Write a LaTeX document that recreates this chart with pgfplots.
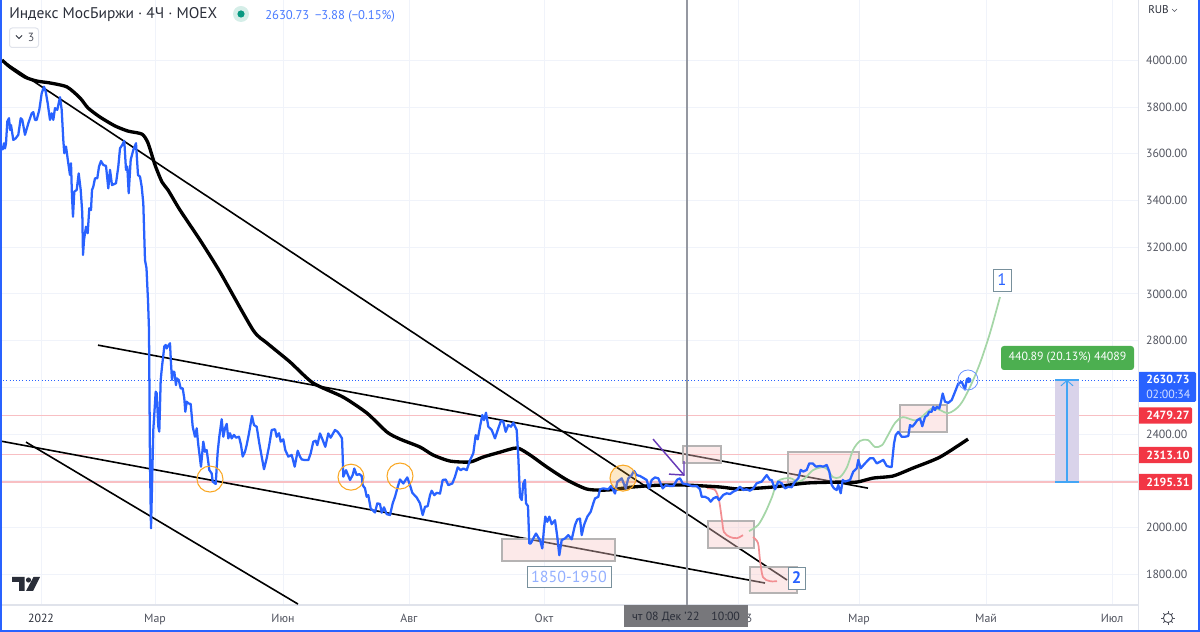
\documentclass[border=0pt]{standalone}
\usepackage{fontspec}
\setmainfont{PT Sans}
\usepackage{pgfplots}
\pgfplotsset{compat=1.18}
\definecolor{tvblue}{HTML}{2962FF}
\definecolor{gridc}{HTML}{F0F3FA}
\definecolor{axc}{HTML}{E0E3EB}
\definecolor{ticktxt}{HTML}{50535E}
\definecolor{redl}{HTML}{F8BFC3}
\definecolor{redbox}{HTML}{F23645}
\definecolor{rectb}{HTML}{B5B3B3}
\definecolor{rectf}{HTML}{F7C9C9}
\definecolor{greenc}{HTML}{A5D6A7}
\definecolor{pinkc}{HTML}{F28E92}
\definecolor{orangec}{HTML}{F9A825}
\definecolor{purplec}{HTML}{673AB7}
\definecolor{cross}{HTML}{9598A1}
\definecolor{rangef}{HTML}{D9D3EA}
\definecolor{rangel}{HTML}{42A5F5}
\definecolor{boxb}{HTML}{78909C}
\definecolor{titlec}{HTML}{2A2E39}
\definecolor{halo}{HTML}{D5EEE8}
\definecolor{dotc}{HTML}{089981}
\definecolor{measure}{HTML}{4CAF50}
\definecolor{timebox}{HTML}{77777B}
\begin{document}
\begin{tikzpicture}
\useasboundingbox (0,-20.25pt) rectangle (900pt,453.75pt);
\begin{axis}[
  at={(0,0)}, anchor=south west,
  scale only axis, width=853.5pt, height=453.75pt,
  xmin=0, xmax=1138, ymin=1669, ymax=4258,
  axis line style={draw=axc, line width=.75pt},
  axis y line*=right, axis x line*=bottom,
  xtick={41,155,283,409,544,738,859,986,1112},
  xticklabels={\textcolor{titlec}{2022},Мар,Июн,Авг,Окт,{},Мар,Май,Июл},
  ytick={1800,2000,2200,2400,2600,2800,3000,3200,3400,3600,3800,4000},
  yticklabels={1800.00,2000.00,{},2400.00,{},2800.00,3000.00,3200.00,3400.00,3600.00,3800.00,4000.00},
  major tick length=0pt,
  grid=major, major grid style={draw=gridc, line width=.75pt},
  tick label style={font=\fontsize{8.9pt}{10pt}\selectfont, text=ticktxt},
  yticklabel style={anchor=west, xshift=2.5pt},
  xticklabel style={yshift=-3pt},
  ytick style={draw=none}, xtick style={draw=none},
  clip=true,
]
% horizontal levels
\addplot[redl, line width=.9pt] coordinates {(2,2479.27) (1138,2479.27)};
\addplot[redl, line width=.9pt] coordinates {(2,2313.10) (1138,2313.10)};
\addplot[redl, line width=.9pt] coordinates {(2,2195.31) (1138,2195.31)};
\addplot[tvblue, line width=.75pt, dash pattern=on .8pt off 1.6pt] coordinates {(0,2630.73) (1138,2630.73)};
% range
\addplot[draw=none, fill=rangef] coordinates {(1055,2195) (1079,2195) (1079,2632) (1055,2632)} -- cycle;
\addplot[rangel, line width=.9pt] coordinates {(1067,2195) (1067,2630)};
\addplot[rangel, line width=.9pt] coordinates {(1055,2195) (1079,2195)};
\addplot[rangel, line width=.9pt] coordinates {(1055,2632) (1079,2632)};
\addplot[rangel, line width=.7pt] coordinates {(1061,2607) (1067,2630) (1073,2607)};
% trend lines
\addplot[black, line width=1.2pt] coordinates {(0,4005) (787,1776)};
\addplot[black, line width=1.2pt] coordinates {(98,2781) (868,2169)};
\addplot[black, line width=1.2pt] coordinates {(0,2371) (765,1763)};
\addplot[black, line width=1.2pt] coordinates {(26,2366) (298,1673)};
% rectangles
\addplot[draw=rectb, line width=1.4pt, fill=rectf, fill opacity=.4] coordinates {(502,1951) (615,1951) (615,1857) (502,1857)} -- cycle;
\addplot[draw=rectb, line width=1.4pt, fill=rectf, fill opacity=.4] coordinates {(683,2349) (721,2349) (721,2276) (683,2276)} -- cycle;
\addplot[draw=rectb, line width=1.4pt, fill=rectf, fill opacity=.4] coordinates {(708,2028) (754,2028) (754,1913) (708,1913)} -- cycle;
\addplot[draw=rectb, line width=1.4pt, fill=rectf, fill opacity=.4] coordinates {(750,1831) (797,1831) (797,1720) (750,1720)} -- cycle;
\addplot[draw=rectb, line width=1.4pt, fill=rectf, fill opacity=.4] coordinates {(788,2323) (859,2323) (859,2195) (788,2195)} -- cycle;
\addplot[draw=rectb, line width=1.4pt, fill=rectf, fill opacity=.4] coordinates {(900,2525) (947,2525) (947,2409) (900,2409)} -- cycle;
% crosshair
\addplot[cross, line width=1.3pt] coordinates {(687,1669) (687,4258)};
% forecast curves
\addplot[pinkc, line width=1.3pt, smooth, tension=.5] coordinates {(707,2169) (715,2161) (719,2118) (722,2032) (724,1981) (730,1960) (737,1955) (743,1968)};
\addplot[pinkc, line width=1.3pt, smooth, tension=.5] coordinates {(753,1960) (758,1934) (760,1861) (763,1788) (770,1771) (777,1771)};
\addplot[greenc, line width=1.3pt, smooth, tension=.5] coordinates {(749,1985) (758,2011) (765,2062) (772,2131) (778,2199) (790,2212) (798,2195) (805,2212) (813,2246) (823,2259) (828,2246) (833,2216) (840,2216) (847,2259) (853,2332) (860,2371) (868,2375) (875,2345) (882,2353) (887,2388) (895,2448) (903,2473) (917,2460) (933,2512) (948,2490) (960,2525) (970,2602) (980,2704) (990,2833) (1000,2987)};
% moving average
\addplot[black, line width=2.5pt, line join=round, smooth, tension=.4] coordinates {
(2,4001) (10,3971) (25,3928) (37,3911) (50,3903) (67,3886) (80,3839) (88,3796) (100,3757) (115,3719) (128,3697) (142,3684) (148,3646) (155,3552) (162,3479) (168,3445) (180,3359) (200,3231) (220,3094) (253,2846) (267,2790) (290,2709) (313,2619) (343,2559) (367,2490) (387,2409) (400,2379) (420,2345) (433,2311) (450,2285) (470,2281) (483,2302) (500,2323) (517,2341) (530,2311) (547,2259) (567,2204) (587,2165) (607,2161) (633,2174) (660,2182) (687,2182) (720,2174) (740,2165) (773,2174) (807,2191) (840,2195) (857,2195) (873,2212) (893,2221) (913,2255) (940,2302) (968,2379)};
% price
\addplot[tvblue, line width=1.7pt, line join=round] coordinates {
(1,3623) (2.7,3619) (4,3645) (5,3623) (6,3645) (7.3,3738) (9,3752) (10,3702) (11,3723) (13.3,3659) (15.7,3666) (18.3,3681) (20.7,3752) (22.3,3745) (25,3681) (28.3,3730) (31.7,3773) (33.3,3778) (35,3745) (36.7,3745) (39.3,3788) (41.7,3859) (44,3887) (45.7,3866) (47.7,3816) (50,3745) (51.7,3773) (53.3,3745) (55,3795) (57.3,3788) (60,3842) (61.7,3788) (63.3,3659) (64.3,3602) (66,3631) (68.3,3559) (70,3509) (71,3559) (72,3417) (73,3331) (74.3,3438) (76.7,3445) (78.7,3516) (80.7,3445) (82.3,3345) (83,3167) (84,3231) (86,3288) (87.7,3260) (89.3,3367) (91,3359) (92,3445) (93.3,3459) (95,3495) (97.3,3495) (99,3545) (101,3569) (103.3,3552) (106,3548) (108.3,3452) (110,3531) (112,3466) (116,3474) (118.3,3545) (120,3623) (122.3,3638) (124.3,3655) (126,3531) (127.3,3545) (128.7,3431) (130.7,3574) (133.3,3616) (136,3645) (138,3509) (140,3502) (141.7,3459) (143.3,3388) (145,3145) (146.5,3110) (147.5,3017) (148,2974) (149,2846)
(150,2275) (151,1997) (152,2175) (153.3,2418) (155.7,2582) (156.7,2575) (158.3,2432) (159.3,2411) (160.7,2632) (162,2689) (164.3,2775) (165.7,2782) (166.7,2767) (168,2777) (170,2789) (171,2703) (172,2632) (172.7,2667) (174.3,2667) (176,2610) (176.7,2639) (178.7,2632) (180.7,2596) (182.7,2596) (184.3,2553) (185.3,2496) (186.7,2539) (188.3,2532) (190.7,2529) (192.7,2432) (195,2389) (196.7,2425) (198.3,2354) (201,2261) (203.3,2368) (205,2325) (206.7,2332) (209.3,2247) (211.7,2232) (212.7,2197) (215.7,2187) (217.7,2325) (219.3,2389) (221.7,2464) (223.3,2389) (225,2425) (226.7,2444) (228.3,2382) (230,2404) (231.7,2382) (234,2397) (236,2385) (239,2389) (241,2354) (242.7,2304) (245,2325) (246.7,2354) (249,2404) (252,2478) (254,2439) (256.7,2432) (259.3,2361) (261.7,2304) (264,2250) (266.7,2297) (269,2347) (271.7,2418) (275,2421) (276.7,2389) (279,2404) (280.7,2368) (283.3,2378) (285.3,2332) (288.3,2304) (291.7,2311) (294.7,2261) (297.7,2329) (300,2304)
(301.7,2292) (305,2289) (308.3,2289) (310.7,2318) (313.3,2368) (315.7,2372) (317.3,2353) (320,2403) (322.7,2375) (325.3,2346) (328.3,2403) (330.7,2385) (335,2418) (337.7,2410) (340,2396) (342,2382) (342.7,2303) (343.3,2218) (346,2246) (350,2204) (352.7,2225) (354.3,2253) (356.7,2225) (359.3,2229) (361.7,2221) (362.7,2182) (365,2168) (366.7,2132) (368.3,2139) (370.7,2082) (375,2065) (377.3,2104) (380,2101) (381.7,2064) (384,2087) (386.7,2058) (390,2054) (392.7,2104) (395,2132) (397.3,2168) (400,2206) (403.3,2189) (407.3,2215) (410,2182) (412.3,2149) (416.7,2129) (420,2104) (422.7,2054) (425,2089) (427.7,2092) (430,2139) (431.7,2158) (434.3,2139) (436.7,2149) (440,2146) (442.7,2204) (445.7,2206) (448.3,2182) (452.3,2189) (455,2218) (457.7,2258) (460.7,2246) (463.3,2253) (466.7,2246) (470,2289) (473.3,2318) (475.7,2396) (477.7,2378) (480,2432) (482.3,2482) (484,2460) (486,2492) (488.3,2432) (491.7,2418) (495,2382) (498.3,2425) (501,2458) (503.3,2453) (505.7,2410) (508.3,2439) (511,2432) (513.3,2449) (516.7,2418)
(518.3,2303) (520,2132) (521.7,2118) (523.3,2189) (525,2204) (526,2104) (528,2092) (529.3,1932) (530.7,1932) (533.3,1954) (536,1975) (538.3,1958) (540,1947) (542.3,1911) (544,1997) (545.3,2047) (547.3,2025) (549.3,2047) (551.7,2015) (555,2032) (557.3,1961) (559.3,1882) (561.7,1947) (565,1954) (568.3,1968) (571.7,1950) (575,2011) (577.3,2035) (580,2039) (581.7,1968) (584,2011) (587.3,2047) (590.7,2068) (593.3,2104) (595,2125) (598.3,2132) (600,2164) (603.3,2168) (608.3,2164) (611,2178) (615,2146) (617.3,2196) (621.7,2211) (625.7,2168) (628.3,2211) (631.7,2225) (634,2243) (636.7,2225) (640,2221) (644,2211) (646.7,2204) (649,2168) (651.7,2204) (655,2215) (658.3,2211) (662.7,2168) (665.7,2182) (670,2178) (673.3,2178) (677.3,2206) (680,2211) (682.7,2189) (686.7,2186) (691.7,2178) (696.7,2178) (700,2164) (701.7,2132) (705,2132) (708.3,2125) (710.7,2111) (713.3,2125) (716.7,2132) (719,2118)
(723.3,2140) (726.7,2147) (730,2144) (733.3,2154) (736.7,2161) (740,2175) (743.3,2161) (746.7,2164) (750,2158) (753.3,2168) (756.7,2190) (761.7,2197) (766.7,2225) (770,2204) (771.7,2204) (775,2164) (778.3,2197) (781.7,2190) (785,2168) (788.3,2175) (791.7,2173) (795,2197) (798.3,2211) (800.7,2247) (803.3,2240) (806.7,2247) (809.3,2275) (812.7,2275) (816,2261) (820,2264) (823.3,2261) (826.7,2268) (829.3,2240) (831.7,2183) (834,2168) (836.7,2161) (838.3,2183) (840.7,2147) (842.7,2204) (845,2197) (850,2204) (853.3,2240) (856.7,2254) (858.3,2290) (860.7,2254) (865,2275) (870,2297) (873.3,2297) (876.7,2275) (880,2282) (883.3,2290) (886.7,2264) (890,2260) (891.7,2260) (892.3,2289) (894,2360) (895.7,2396) (898.3,2410) (901.7,2389) (905,2389) (908.3,2392) (910,2439) (912.3,2432) (915,2446) (917.3,2460) (920,2467) (922.3,2434) (925,2474) (927.7,2482) (929,2496) (931.7,2496) (933.3,2517) (935,2503) (936.7,2517) (939.3,2510) (941,2539) (942.7,2574) (945,2539) (948.3,2534) (951.7,2546) (955,2581) (958.3,2617) (961.7,2624) (965,2591) (966.7,2631) (969.3,2631)};
\addplot[only marks, mark=*, mark size=2pt, mark options={draw=tvblue, fill=tvblue}] coordinates {(968.5,2631)};
% highlight circles
\addplot[only marks, mark=o, mark size=9.75pt, mark options={draw=orangec, line width=.8pt}] coordinates {(210,2208) (351,2216) (400,2221)};
\addplot[only marks, mark=*, mark size=9.75pt, mark options={draw=orangec, line width=.8pt, fill=orangec, fill opacity=.25}] coordinates {(623,2212)};
\addplot[only marks, mark=o, mark size=7.5pt, mark options={draw=tvblue!70, line width=.6pt}] coordinates {(968,2632)};
% purple arrow
\addplot[purplec, line width=1.1pt] coordinates {(653,2379) (684,2225)};
\addplot[purplec, line width=1.1pt] coordinates {(669,2229) (684,2225) (684,2285)};
\end{axis}
% chrome in pixel coordinates
\begin{scope}[x=.75pt, y=-.75pt, yshift=453.75pt]
\node[anchor=west, inner sep=0, text=titlec, font=\fontsize{11.6pt}{14pt}\selectfont] at (9,15) {Индекс МосБиржи · 4Ч · MOEX};
\fill[halo] (241,14) circle[radius=8];
\fill[dotc] (241,14) circle[radius=3.6];
\node[anchor=west, inner sep=0, text=tvblue!85, font=\fontsize{9.5pt}{11pt}\selectfont] at (265,16) {2630.73\hspace{.45em}−3.88 (−0.15\%)};
\draw[axc, line width=.75pt, rounded corners=2pt, fill=white] (9.5,28) rectangle (38.5,47.5);
\draw[titlec, line width=.6pt] (16,35.5) -- (19,38.5) -- (22,35.5);
\node[text=ticktxt, inner sep=0, font=\fontsize{8.9pt}{10pt}\selectfont] at (31,37.5) {3};
\node[text=titlec, inner sep=0, anchor=west, font=\fontsize{8.4pt}{10pt}\selectfont] at (1148,10) {RUB};
\draw[ticktxt, line width=.5pt] (1172,9) -- (1174.5,11.5) -- (1177,9);
% hidden part of the year label behind the crosshair box
\node[text=ticktxt, inner sep=0, font=\fontsize{8.9pt}{10pt}\selectfont] at (749,618) {3};
% price labels
\fill[rounded corners=1pt, fill=tvblue] (1138,372) rectangle (1196,402);
\node[text=white, inner sep=0, anchor=west, font=\bfseries\fontsize{8.9pt}{10pt}\selectfont] at (1146,379.8) {2630.73};
\node[text=white!80!tvblue, inner sep=0, anchor=west, font=\fontsize{8.9pt}{10pt}\selectfont] at (1146,394) {02:00:34};
\foreach \y/\t in {415.5/2479.27, 455/2313.10, 482/2195.31}{
  \fill[redbox, rounded corners=1pt] (1138,\y-8.2) rectangle (1192,\y+8.2);
  \node[text=white, inner sep=0, anchor=west, font=\bfseries\fontsize{8.9pt}{10pt}\selectfont] at (1146,\y) {\t};
}
% measure label
\fill[measure, rounded corners=2.2pt] (1001,346) rectangle (1134,370);
\node[text=white, inner sep=0, font=\fontsize{8.9pt}{10pt}\selectfont] at (1067.5,358) {440.89 (20.13\%) 44089};
% boxed labels
\draw[boxb, line width=.6pt, fill=white] (527,566) rectangle (611,587);
\node[text=tvblue!50, inner sep=0, font=\fontsize{12pt}{13pt}\selectfont] at (569,577) {1850-1950};
\draw[boxb, line width=.6pt, fill=white] (993.5,269.5) rectangle (1011,291);
\node[text=tvblue, inner sep=0, font=\fontsize{12.5pt}{13pt}\selectfont] at (1002,280) {1};
\draw[boxb, line width=.6pt, fill=white] (788.5,567.5) rectangle (805,589);
\node[text=tvblue, inner sep=0, font=\bfseries\fontsize{12.5pt}{13pt}\selectfont] at (796.5,578) {2};
% crosshair time label
\fill[timebox] (624,605) rectangle (748,627);
\node[text=titlec, inner sep=0, font=\fontsize{8.9pt}{10pt}\selectfont] at (686,617) {чт 08 Дек '22\hspace{1em}10:00};
% tradingview logo
\fill[titlec] (12,577) -- (24.5,577) -- (24.5,591) -- (19,591) -- (19,582) -- (12,582) -- cycle;
\fill[titlec] (28.5,580) circle[radius=2.6];
\fill[titlec] (33.5,577) -- (40,577) -- (33,591) -- (26,591) -- cycle;
% settings gear
\draw[ticktxt, line width=.7pt] (1168,618) circle[radius=4.6];
\foreach \a in {0,45,...,315}{\draw[ticktxt, line width=.7pt] (1168,618) ++(\a:4.6) -- ++(\a:2);}
% panel border
\draw[axc, line width=.75pt] (1138,0) -- (1138,632);
\draw[tvblue, line width=1.5pt] (1,0) -- (1,631) -- (1198.5,631) -- (1198.5,0);
\end{scope}
\end{tikzpicture}
\end{document}
